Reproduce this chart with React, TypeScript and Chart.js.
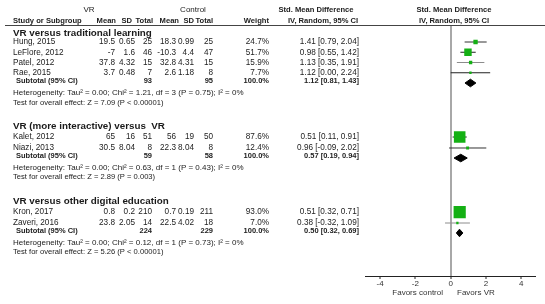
import React, { useEffect, useRef } from 'react';
import { Chart, registerables } from 'chart.js';

Chart.register(...registerables);

// ---------- data ----------
const groupNames = [
  'VR versus traditional learning',
  'VR (more interactive) versus  VR',
  'VR versus other digital education',
];
const studies = ['Hung, 2015', 'LeFlore, 2012', 'Patel, 2012', 'Rae, 2015', 'Kalet, 2012', 'Niazi, 2013', 'Kron, 2017', 'Zaveri, 2016'];
const studyGroup = [0, 0, 0, 0, 1, 1, 2, 2];
const vrMean = ['19.5', '-7', '37.8', '3.7', '65', '30.5', '0.8', '23.8'];
const vrSD = ['0.65', '1.6', '4.32', '0.48', '16', '8.04', '0.2', '2.05'];
const vrTotal = [25, 46, 15, 7, 51, 8, 210, 14];
const ctlMean = ['18.3', '-10.3', '32.8', '2.6', '56', '22.3', '0.7', '22.5'];
const ctlSD = ['0.99', '4.4', '4.31', '1.18', '19', '8.04', '0.19', '4.02'];
const ctlTotal = [25, 47, 15, 8, 50, 8, 211, 18];
const weights = [24.7, 51.7, 15.9, 7.7, 87.6, 12.4, 93.0, 7.0];
const smd = [1.41, 0.98, 1.13, 1.12, 0.51, 0.96, 0.51, 0.38];
const ciLow = [0.79, 0.55, 0.35, 0.0, 0.11, -0.09, 0.32, -0.32];
const ciHigh = [2.04, 1.42, 1.91, 2.24, 0.91, 2.02, 0.71, 1.09];

const subVrTotal = [93, 59, 224];
const subCtlTotal = [95, 58, 229];
const subSmd = [1.12, 0.57, 0.5];
const subLow = [0.81, 0.19, 0.32];
const subHigh = [1.43, 0.94, 0.69];
const hetText = [
  'Heterogeneity: Tau² = 0.00; Chi² = 1.21, df = 3 (P = 0.75); I² = 0%',
  'Heterogeneity: Tau² = 0.00; Chi² = 0.63, df = 1 (P = 0.43); I² = 0%',
  'Heterogeneity: Tau² = 0.00; Chi² = 0.12, df = 1 (P = 0.73); I² = 0%',
];
const testText = [
  'Test for overall effect: Z = 7.09 (P < 0.00001)',
  'Test for overall effect: Z = 2.89 (P = 0.003)',
  'Test for overall effect: Z = 5.26 (P < 0.00001)',
];
const tickValues = [-4, -2, 0, 2, 4];

// ---------- layout (row units on the y scale) ----------
const rowHeader = [0.1, 9.25, 16.55];
const rowStudy = [1, 2, 3, 4, 10.27, 11.34, 17.59, 18.66];
const rowSub = [5, 12.32, 19.63];
const rowHet = [5.98, 13.27, 20.58];
const rowTest = [6.9, 14.19, 21.5];

const FONT = '"Liberation Sans", Arial, Helvetica, sans-serif';
const GREEN = '#14b014';
const lineColors = ['#333', '#222', '#8c8c8c', '#222', '#222', '#333', '#333', '#8c8c8c'];

const fmt = (v: number) => v.toFixed(2);
const ciStr = (e: number, l: number, h: number) => `${fmt(e)} [${fmt(l)}, ${fmt(h)}]`;

const textPlugin = {
  id: 'forestText',
  afterDraw(chart: any) {
    const ctx = chart.ctx as CanvasRenderingContext2D;
    const ys = chart.scales.y;
    const area = chart.chartArea;
    const put = (s: string, x: number, y: number, align: CanvasTextAlign = 'left', bold = false, size = 8.2, color = '#222') => {
      ctx.font = `${bold ? 'bold ' : ''}${size}px ${FONT}`;
      ctx.fillStyle = color;
      ctx.textAlign = align;
      ctx.textBaseline = 'middle';
      ctx.fillText(s, x, y);
    };
    ctx.save();
    // header
    const hs = 7.6;
    put('VR', 89, 10, 'center', false, 8);
    put('Control', 193, 10, 'center', false, 8);
    put('Std. Mean Difference', 316, 10, 'center', true, hs);
    put('Std. Mean Difference', 454, 10, 'center', true, hs);
    const hy = 20.5;
    put('Study or Subgroup', 13, hy, 'left', true, hs);
    put('Mean', 116, hy, 'right', true, hs);
    put('SD', 132, hy, 'right', true, hs);
    put('Total', 153, hy, 'right', true, hs);
    put('Mean', 179, hy, 'right', true, hs);
    put('SD', 194, hy, 'right', true, hs);
    put('Total', 213, hy, 'right', true, hs);
    put('Weight', 269, hy, 'right', true, hs);
    put('IV, Random, 95% CI', 323, hy, 'center', true, hs);
    put('IV, Random, 95% CI', 454, hy, 'center', true, hs);
    // header rule
    ctx.strokeStyle = '#444';
    ctx.lineWidth = 1;
    ctx.beginPath();
    ctx.moveTo(5, Math.round(area.top) + 0.5);
    ctx.lineTo(545, Math.round(area.top) + 0.5);
    ctx.stroke();

    for (let g = 0; g < groupNames.length; g++) {
      put(groupNames[g], 13, ys.getPixelForValue(rowHeader[g]), 'left', true, 9.8, '#1a1a1a');
      const sy = ys.getPixelForValue(rowSub[g]) - 2;
      put('Subtotal (95% CI)', 16, sy, 'left', true, 7.5);
      put(String(subVrTotal[g]), 152, sy, 'right', true, 7.5);
      put(String(subCtlTotal[g]), 213, sy, 'right', true, 7.5);
      put('100.0%', 269, sy, 'right', true, 7.5);
      put(ciStr(subSmd[g], subLow[g], subHigh[g]), 359, sy, 'right', true, 7.5);
      put(hetText[g], 13, ys.getPixelForValue(rowHet[g]), 'left', false, 8);
      put(testText[g], 13, ys.getPixelForValue(rowTest[g]), 'left', false, 7.6);
    }
    for (let i = 0; i < studies.length; i++) {
      const y = ys.getPixelForValue(rowStudy[i]);
      put(studies[i], 13, y);
      put(vrMean[i], 115, y, 'right');
      put(vrSD[i], 135, y, 'right');
      put(String(vrTotal[i]), 152, y, 'right');
      put(ctlMean[i], 176, y, 'right');
      put(ctlSD[i], 194, y, 'right');
      put(String(ctlTotal[i]), 213, y, 'right');
      put(`${weights[i].toFixed(1)}%`, 269, y, 'right');
      put(ciStr(smd[i], ciLow[i], ciHigh[i]), 359, y, 'right');
    }
    const fy = area.bottom + 17;
    put('Favors control', 443, fy, 'right', false, 8, '#333');
    put('Favors VR', 457, fy, 'left', false, 8, '#333');
    ctx.restore();
  },
};

export default function App() {
  const ref = useRef<HTMLCanvasElement>(null);
  useEffect(() => {
    if (!ref.current) return;
    const datasets: any[] = [];
    // squares (drawn on top)
    datasets.push({
      type: 'scatter',
      data: studies.map((_, i) => ({ x: smd[i], y: rowStudy[i] })),
      pointStyle: 'rect',
      pointRadius: weights.map((w) => (1.5 + w * 0.115) / Math.SQRT2),
      backgroundColor: GREEN,
      pointBackgroundColor: GREEN,
      pointBorderWidth: 0,
      borderWidth: 0,
      order: 0,
    });
    // confidence-interval lines
    studies.forEach((_, i) => {
      datasets.push({
        type: 'line',
        data: [
          { x: ciLow[i], y: rowStudy[i] },
          { x: ciHigh[i], y: rowStudy[i] },
        ],
        borderColor: lineColors[i],
        borderWidth: 1,
        pointRadius: 0,
        fill: false,
        order: 2,
      });
    });
    // subtotal diamonds
    const dh = 0.37;
    subSmd.forEach((e, g) => {
      const r = rowSub[g];
      datasets.push({
        type: 'line',
        data: [
          { x: subLow[g], y: r },
          { x: e, y: r - dh },
          { x: subHigh[g], y: r },
          { x: e, y: r + dh },
          { x: subLow[g], y: r },
        ],
        borderColor: '#000',
        backgroundColor: '#000',
        borderWidth: 1,
        pointRadius: 0,
        fill: 'shape',
        tension: 0,
        order: 1,
      });
    });

    const chart = new Chart(ref.current, {
      type: 'scatter',
      data: { datasets },
      plugins: [textPlugin],
      options: {
        animation: false,
        responsive: false,
        maintainAspectRatio: false,
        events: [],
        layout: { padding: { left: 365, right: 2, top: 25, bottom: 0 } },
        plugins: { legend: { display: false }, tooltip: { enabled: false } },
        scales: {
          x: {
            type: 'linear',
            min: -4.86,
            max: 4.86,
            afterBuildTicks: (s: any) => {
              s.ticks = tickValues.map((v) => ({ value: v }));
            },
            afterFit: (s: any) => {
              s.height = 28;
            },
            border: { display: true, color: '#222', width: 1 },
            grid: {
              drawOnChartArea: true,
              drawTicks: true,
              color: (c: any) => (c.tick && c.tick.value === 0 ? '#a8a8a8' : 'rgba(0,0,0,0)'),
              lineWidth: (c: any) => (c.tick && c.tick.value === 0 ? 2 : 0),
              tickColor: '#222',
              tickWidth: 1,
              tickLength: 3,
            },
            ticks: {
              font: { family: FONT, size: 8 },
              color: '#333',
              padding: 0,
              autoSkip: false,
              maxRotation: 0,
              callback: (v: any) => String(v),
            },
          },
          y: { type: 'linear', display: false, min: -0.66, max: 23.83, reverse: true },
        },
      } as any,
    });
    return () => chart.destroy();
  }, []);
  return (
    <div style={{ position: 'absolute', left: 0, top: 0, width: 545, height: 304, background: '#fff' }}>
      <canvas ref={ref} width={545} height={304} style={{ display: 'block' }} />
    </div>
  );
}
